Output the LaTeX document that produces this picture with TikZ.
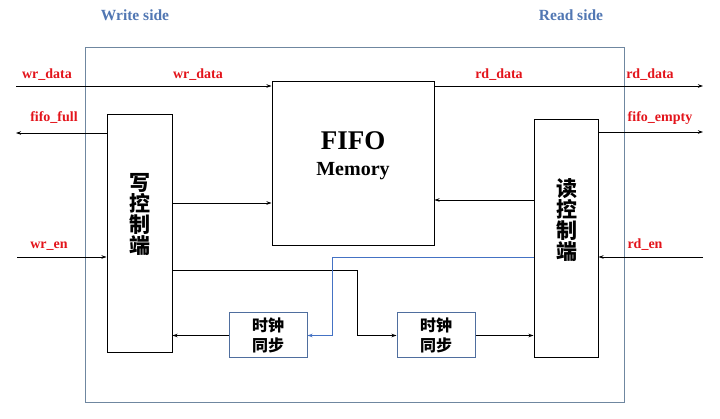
\documentclass[tikz,border=0pt]{standalone}
\usepackage{fontspec}
\setmainfont{Liberation Serif}
\newfontfamily\cjk{Noto Sans CJK SC}
\usetikzlibrary{arrows.meta}
\definecolor{sigred}{HTML}{E3141B}
\definecolor{sidebl}{HTML}{5177B3}
\definecolor{framec}{HTML}{6F87A0}
\definecolor{syncc}{HTML}{4F6E9E}
\definecolor{bluew}{HTML}{4472C4}
\begin{document}
\begin{tikzpicture}[x=1pt,y=-1pt,
  blk/.style={draw=black,line width=1pt,inner sep=0pt},
  syncbox/.style={draw=syncc,line width=1pt,inner sep=0pt,minimum width=78pt,minimum height=45pt,
     font=\cjk\bfseries\fontsize{16}{20}\selectfont,align=center},
  vtext/.style={font=\cjk\bfseries\fontsize{21}{21}\selectfont,align=center},
  sig/.style={text=sigred,font=\bfseries\fontsize{14}{14}\selectfont,inner sep=0pt},
  side/.style={text=sidebl,font=\bfseries\fontsize{15.5}{16}\selectfont,inner sep=0pt},
  arr/.style={draw=black,line width=0.8pt,-{Stealth[length=5pt,width=3.5pt]}},
  barr/.style={draw=bluew,line width=0.8pt,-{Stealth[length=5pt,width=3.5pt]}}]
\useasboundingbox (0,0) rectangle (720,419);
\fill[white] (0,0) rectangle (720,419);
% outer frame
\draw[framec,line width=0.9pt] (85,47) rectangle (624,402);
\node[side] (wside) at (135,15) {Write side};
\node[side] (rside) at (571,15) {Read side};
% blocks
\node[blk,minimum width=65pt,minimum height=238pt,vtext] (wbox) at (139.5,234) {};
\node[vtext] (wtext) at (140,214) {写\\控\\制\\端};
\node[blk,minimum width=64pt,minimum height=238pt] (rbox) at (566,239) {};
\node[vtext] (rtext) at (567,220) {读\\控\\制\\端};
\node[blk,minimum width=162pt,minimum height=164pt] (fifo) at (353,164) {};
\node[font=\bfseries\fontsize{27}{28}\selectfont,inner sep=0pt] (fifot) at (353,141) {FIFO};
\node[font=\bfseries\fontsize{20}{21}\selectfont,inner sep=0pt] (memt) at (353,171) {Memory};
\node[syncbox] (s1) at (268,335.5) {时钟\\同步};
\node[syncbox] (s2) at (436,335.5) {时钟\\同步};
% free ends
\coordinate (wdin) at (16,86);
\coordinate (rdout) at (703,86);
\coordinate (ffout) at (16,133);
\coordinate (feout) at (703,132);
\coordinate (wein) at (17,257);
\coordinate (rein) at (703,257);
% connectors
\draw[arr] (wdin) -- (wdin -| fifo.west);
\draw[arr] (rdout -| fifo.east) -- (rdout);
\draw[arr] (ffout -| wbox.west) -- (ffout);
\draw[arr] (feout -| rbox.east) -- (feout);
\draw[arr] (wein) -- (wein -| wbox.west);
\draw[arr] (rein) -- (rein -| rbox.east);
\draw[arr] (wbox.east |- 0,203) -- (fifo.west |- 0,203);
\draw[arr] (rbox.west |- 0,200) -- (fifo.east |- 0,200);
\draw[arr] (wbox.east |- 0,270) -- (357,270) |- (s2.west);
\draw[arr] (s2.east) -- (s2.east -| rbox.west);
\draw[arr] (s1.west) -- (s1.west -| wbox.east);
\draw[barr] (rbox.west |- 0,257) -- (332,257) |- (s1.east);
% labels
\node[sig] (l1) at (47,75) {wr\_data};
\node[sig] (l2) at (198,75) {wr\_data};
\node[sig] (l3) at (499,75) {rd\_data};
\node[sig] (l4) at (650,75) {rd\_data};
\node[sig] (l5) at (54,118) {fifo\_full};
\node[sig] (l6) at (660,118) {fifo\_empty};
\node[sig] (l7) at (49,246) {wr\_en};
\node[sig] (l8) at (645,245) {rd\_en};
\end{tikzpicture}
\end{document}
